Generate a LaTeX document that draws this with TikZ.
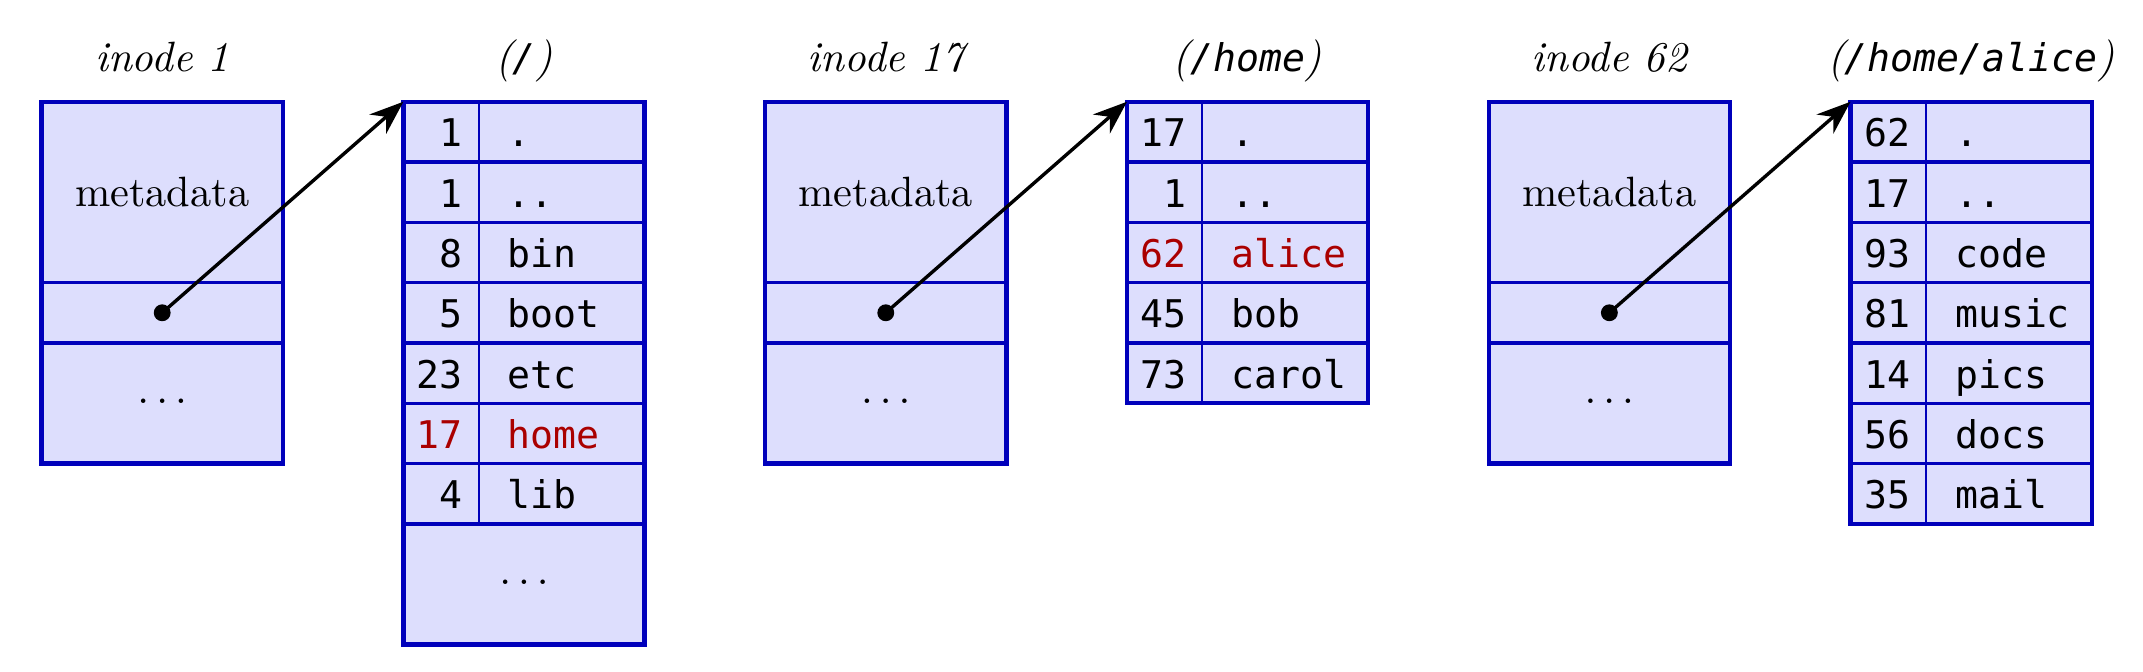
\documentclass[tikz,border=0pt]{standalone}
\usepackage{fontspec}
\setmonofont[Scale=0.9, ItalicFont={DejaVu Sans Mono Oblique}]{DejaVu Sans Mono}
\usepackage{xcolor}
\usetikzlibrary{arrows.meta,positioning}
\definecolor{cellfill}{RGB}{221,222,253}
\definecolor{cellline}{RGB}{0,0,187}
\definecolor{hilite}{RGB}{170,0,0}

\begin{document}
\begin{tikzpicture}[x=0.5cm, y=0.5cm,
		cell/.style={fill=cellfill, anchor=north west, inner sep=0pt, outer sep=0pt, minimum width=2cm},
		frame/.style={draw=cellline, line width=1pt},
		rule/.style={draw=cellline, line width=0.8pt},
		divider/.style={draw=cellline, line width=0.5pt},
		num/.style={anchor=base east, font=\ttfamily, inner sep=0pt},
		fname/.style={anchor=base west, font=\ttfamily, inner sep=0pt},
		title/.style={anchor=base, font=\itshape},
		pointer/.style={line width=0.8pt, -{Stealth[length=8pt, width=6pt]}}]
	\useasboundingbox (-0.69,1.687) rectangle (34.85,-9.455);

	% inode 1 and the root directory
	\node[title] at (2,0.5) {inode 1};
	\node[cell, minimum height=3cm] (ino1) at (0,0) {};
	\draw[rule] (0,-3) -- (4,-3) (0,-4) -- (4,-4);
	\draw[frame] (ino1.north west) rectangle (ino1.south east);
	\node at (2,-1.5) {metadata};
	\node[anchor=base] at (2,-5) {$\ldots$};
	\coordinate (ptr1) at (2,-3.5);

	\node[title] at (8,0.5) {(\texttt{/})};
	\node[cell, minimum height=4.5cm] (dir1) at (6,0) {};
	\foreach \n/\f/\c [count=\i] in {1/./black, 1/../black, 8/bin/black, 5/boot/black, 23/etc/black, 17/home/hilite, 4/lib/black} {
		\draw[rule] (6,-\i) -- (10,-\i);
		\node[num, text=\c] at (7,-\i+0.25) {\n};
		\node[fname, text=\c] at (7.72,-\i+0.25) {\f};
	}
	\draw[divider] (7.25,0) -- (7.25,-7);
	\node[anchor=base] at (8,-8) {$\ldots$};
	\draw[frame] (dir1.north west) rectangle (dir1.south east);

	\fill (ptr1) circle (0.14);
	\draw[pointer] (ptr1) -- (dir1.north west);

	% inode 17 and /home
	\node[title] at (14,0.5) {inode 17};
	\node[cell, minimum height=3cm] (ino17) at (12,0) {};
	\draw[rule] (12,-3) -- (16,-3) (12,-4) -- (16,-4);
	\draw[frame] (ino17.north west) rectangle (ino17.south east);
	\node at (14,-1.5) {metadata};
	\node[anchor=base] at (14,-5) {$\ldots$};
	\coordinate (ptr17) at (14,-3.5);

	\node[title] at (20,0.5) {(\texttt{/home})};
	\node[cell, minimum height=2.5cm] (dir17) at (18,0) {};
	\foreach \n/\f/\c [count=\i] in {17/./black, 1/../black, 62/alice/hilite, 45/bob/black, 73/carol/black} {
		\draw[rule] (18,-\i) -- (22,-\i);
		\node[num, text=\c] at (19,-\i+0.25) {\n};
		\node[fname, text=\c] at (19.72,-\i+0.25) {\f};
	}
	\draw[divider] (19.25,0) -- (19.25,-5);
	\draw[frame] (dir17.north west) rectangle (dir17.south east);

	\fill (ptr17) circle (0.14);
	\draw[pointer] (ptr17) -- (dir17.north west);

	% inode 62 and /home/alice
	\node[title] at (26,0.5) {inode 62};
	\node[cell, minimum height=3cm] (ino62) at (24,0) {};
	\draw[rule] (24,-3) -- (28,-3) (24,-4) -- (28,-4);
	\draw[frame] (ino62.north west) rectangle (ino62.south east);
	\node at (26,-1.5) {metadata};
	\node[anchor=base] at (26,-5) {$\ldots$};
	\coordinate (ptr62) at (26,-3.5);

	\node[title] at (32,0.5) {(\texttt{/home/alice})};
	\node[cell, minimum height=3.5cm] (dir62) at (30,0) {};
	\foreach \n/\f/\c [count=\i] in {62/./black, 17/../black, 93/code/black, 81/music/black, 14/pics/black, 56/docs/black, 35/mail/black} {
		\draw[rule] (30,-\i) -- (34,-\i);
		\node[num, text=\c] at (31,-\i+0.25) {\n};
		\node[fname, text=\c] at (31.72,-\i+0.25) {\f};
	}
	\draw[divider] (31.25,0) -- (31.25,-7);
	\draw[frame] (dir62.north west) rectangle (dir62.south east);

	\fill (ptr62) circle (0.14);
	\draw[pointer] (ptr62) -- (dir62.north west);
\end{tikzpicture}
\end{document}
